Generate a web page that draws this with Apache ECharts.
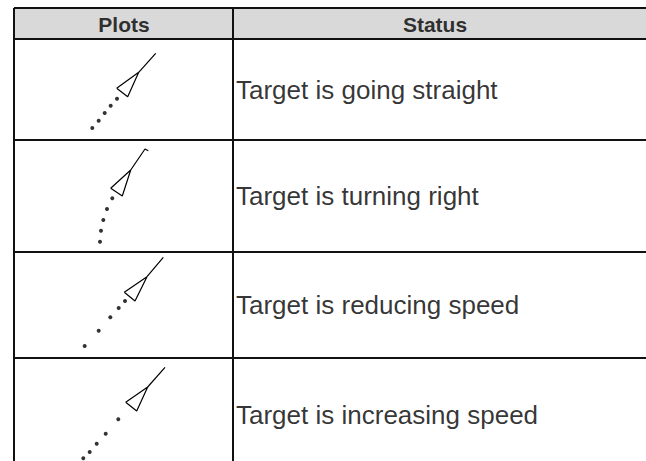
<!DOCTYPE html>
<html><head><meta charset="utf-8">
<script src="https://cdn.jsdelivr.net/npm/echarts@6/dist/echarts.min.js"></script>
<style>html,body{margin:0;padding:0;background:#fff}#c{width:646px;height:461px}</style>
</head><body><div id="c"></div>
<script>
// ---- table content ----
const headers = ['Plots', 'Status'];
const statusLabels = [
  'Target is going straight',
  'Target is turning right',
  'Target is reducing speed',
  'Target is increasing speed'
];
// table edges (diagram units = pixels of the reference)
const rowEdges = [8, 39, 140, 252, 358, 472];
const colEdges = [14, 233, 646];
const headerCenters = [124, 435];
const textX = 236;
const textY = [90, 196, 305, 415];

// ---- plot symbols, one set per row ----
const dots1 = [[92.3,128],[98.7,120.7],[104.7,113],[110.7,105.7],[117,98.7]];
const tri1  = [[116.7,88.3],[138.7,72.3],[127.7,96.7],[116.7,88.3]];
const vec1  = [[138.7,72.3],[155.7,53.3]];

const dots2 = [[100,241.7],[101,230.7],[103.3,220],[107,209],[112.3,198.3]];
const tri2  = [[110.7,188.3],[130.7,170],[122.3,196],[110.7,188.3]];
const vec2  = [[130.7,170],[145,149],[148.3,150.7]];

const dots3 = [[84.7,346],[98.7,330.7],[110.3,317.3],[118.7,308],[125,301]];
const tri3  = [[124.3,292.3],[147,276.7],[135,301],[124.3,292.3]];
const vec3  = [[147,276.7],[163.3,257.3]];

const dots4 = [[83.3,458.3],[89.7,452],[96.7,443.7],[105.7,433.7],[118.3,419.3]];
const tri4  = [[125.7,402.3],[147.7,387],[136.7,411],[125.7,402.3]];
const vec4  = [[147.7,387],[165,367.3]];

const rows = [[dots1,tri1,vec1],[dots2,tri2,vec2],[dots3,tri3,vec3],[dots4,tri4,vec4]];

const FONT = '"Liberation Sans", Arial, sans-serif';
const BORDER = '#111';
const series = [];

// header background
series.push({
  type: 'line', data: [], silent: true,
  markArea: { silent: true, itemStyle: { color: '#d9d9d9' },
    data: [[{ coord: [colEdges[0], rowEdges[0]] }, { coord: [colEdges[2], rowEdges[1]] }]] }
});
// horizontal borders
rowEdges.slice(0, 5).forEach(y => series.push({
  type: 'line', symbol: 'none', silent: true,
  lineStyle: { color: BORDER, width: 2 },
  data: [[colEdges[0], y], [colEdges[2], y]]
}));
// vertical borders
colEdges.slice(0, 2).forEach(x => series.push({
  type: 'line', symbol: 'none', silent: true,
  lineStyle: { color: BORDER, width: 2 },
  data: [[x, rowEdges[0]], [x, rowEdges[5]]]
}));
// plots
rows.forEach(([d, t, v]) => {
  series.push({ type: 'scatter', symbol: 'circle', symbolSize: 4,
    itemStyle: { color: '#000' }, data: d });
  series.push({ type: 'line', symbol: 'none', lineStyle: { color: '#000', width: 1.2 }, data: t });
  series.push({ type: 'line', symbol: 'none', lineStyle: { color: '#000', width: 1.2 }, data: v });
});
// header text
series.push({
  type: 'scatter', symbolSize: 0,
  data: headers.map((h, i) => ({ value: [headerCenters[i], (rowEdges[0] + rowEdges[1]) / 2 + 1], name: h })),
  label: { show: true, position: 'inside', formatter: p => p.name,
    fontFamily: FONT, fontWeight: 'bold', fontSize: 21, color: '#000' }
});
// status text
series.push({
  type: 'scatter', symbolSize: 0,
  data: statusLabels.map((s, i) => ({ value: [textX, textY[i]], name: s })),
  label: { show: true, position: 'right', distance: 0, formatter: p => p.name,
    fontFamily: FONT, fontSize: 26, color: '#000' }
});

const chart = echarts.init(document.getElementById('c'), null, { renderer: 'svg' });
chart.setOption({
  animation: false,
  backgroundColor: '#fff',
  grid: { left: 0, right: 0, top: 0, bottom: 0 },
  xAxis: { type: 'value', min: 0, max: 646, show: false },
  yAxis: { type: 'value', min: 0, max: 461, inverse: true, show: false },
  series
});
</script></body></html>
